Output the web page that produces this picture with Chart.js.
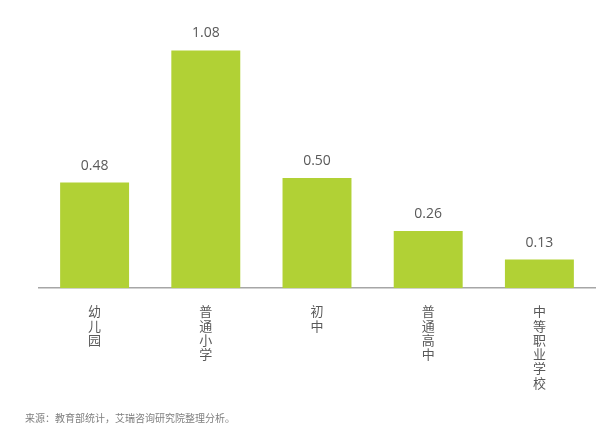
<!DOCTYPE html>
<html>
<head>
<meta charset="utf-8">
<script src="https://cdn.jsdelivr.net/npm/chart.js@4"></script>
<style>
  html, body { margin: 0; padding: 0; background: #fff; }
  #wrap { width: 600px; height: 430px; position: relative; }
</style>
</head>
<body>
<div id="wrap"><canvas id="c"></canvas></div>
<script>
// categories (one character per line, as in the picture)
var categories = ['幼儿园', '普通小学', '初中', '普通高中', '中等职业学校'];
var values = [0.48, 1.08, 0.50, 0.26, 0.13];
var source = '来源：教育部统计，艾瑞咨询研究院整理分析。';

var barColor = '#b1d135';
var textColor = '#595959';

// draw value above each bar
var valueLabels = {
    id: 'valueLabels',
    afterDatasetsDraw: function(chart) {
        var ctx = chart.ctx;
        var meta = chart.getDatasetMeta(0);
        ctx.save();
        ctx.fillStyle = textColor;
        ctx.font = '14px "Open Sans", "Noto Sans", sans-serif';
        ctx.textAlign = 'center';
        ctx.textBaseline = 'middle';
        meta.data.forEach(function(bar, i) {
            ctx.fillText(values[i].toFixed(2), bar.x, bar.y - 17);
        });
        ctx.restore();
    }
};

// source note at the bottom
var footNote = {
    id: 'footNote',
    afterDraw: function(chart) {
        var ctx = chart.ctx;
        ctx.save();
        ctx.fillStyle = '#7f7f7f';
        ctx.font = '10px "Noto Sans CJK SC", sans-serif';
        ctx.textAlign = 'left';
        ctx.textBaseline = 'middle';
        ctx.fillText(source, 25, 418);
        ctx.restore();
    }
};

new Chart(document.getElementById('c'), {
    type: 'bar',
    data: {
        labels: categories.map(function(s) { return s.split(''); }),
        datasets: [{
            data: values,
            backgroundColor: barColor,
            barPercentage: 0.62,
            categoryPercentage: 1.0
        }]
    },
    options: {
        responsive: true,
        maintainAspectRatio: false,
        animation: false,
        layout: { padding: { left: 39, right: 5, top: 24, bottom: 24 } },
        plugins: {
            legend: { display: false },
            tooltip: { enabled: false }
        },
        scales: {
            x: {
                grid: { display: false, drawTicks: false },
                border: { display: true, color: '#a6a6a6', width: 1.5 },
                ticks: {
                    color: textColor,
                    font: { family: '"Noto Sans CJK SC", sans-serif', size: 13, lineHeight: 1.1 },
                    padding: 16,
                    maxRotation: 0,
                    minRotation: 0,
                    autoSkip: false
                }
            },
            y: {
                display: false,
                min: 0,
                max: 1.2
            }
        }
    },
    plugins: [valueLabels, footNote]
});
</script>
</body>
</html>
